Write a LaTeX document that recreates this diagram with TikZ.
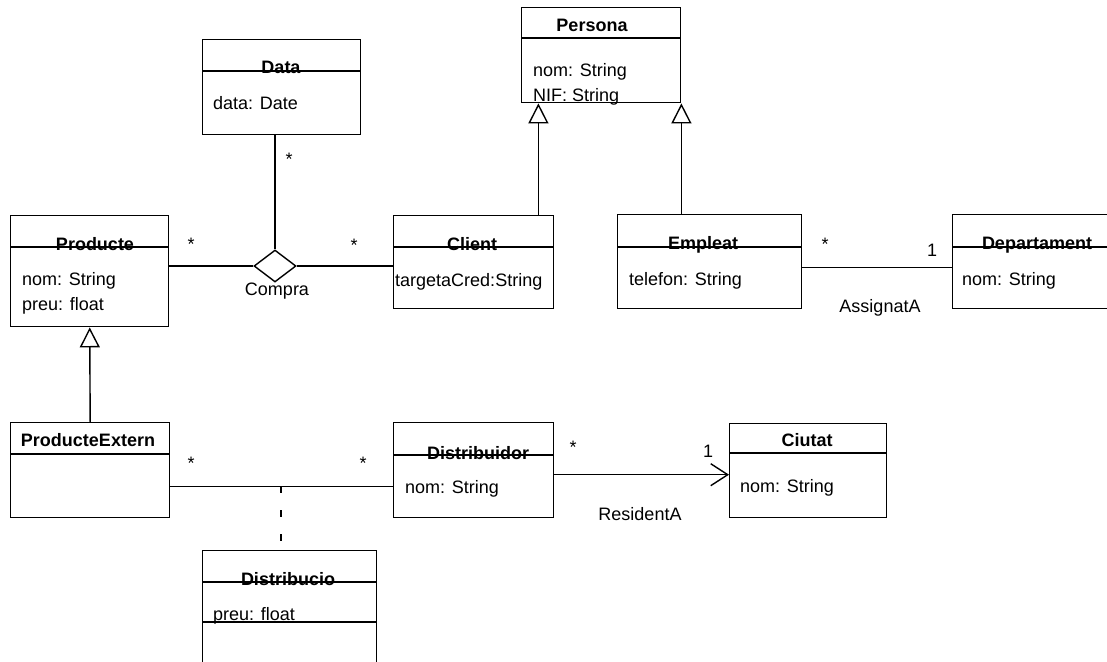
\documentclass[tikz,border=0pt]{standalone}
\usepackage{fontspec}
\setmainfont{Liberation Sans}
\usepackage{tikz}
\usetikzlibrary{arrows.meta}
\usetikzlibrary{shapes.geometric}
\tikzset{every node/.style={font=\fontsize{18}{22}\selectfont},
 umlclass/.style={draw, line width=1.4pt, anchor=north west, inner sep=0pt},
 classname/.style={anchor=base, inner sep=0pt, font=\fontsize{18}{22}\selectfont\bfseries},
 attr/.style={anchor=base west, inner sep=0pt},
 mult/.style={anchor=base, inner sep=0pt},
 assoc/.style={line width=1.4pt},
 inherit/.style={line width=1.4pt, -{Triangle[open, length=20pt, width=20pt]}},
 }

\begin{document}
\begin{tikzpicture}[x=1pt, y=-1pt]
        \useasboundingbox (0,0) rectangle (1107,661);

        \node[umlclass, minimum width=158pt, minimum height=95pt] (data) at (202,39) {};
        \draw[assoc] (data.north west) ++(0,32) -- ++(158,0);
        \node[classname] (dataname) at (281,74) {Data};
        \node[attr] (dataattr) at (213,109) {data: Date};

        \node[umlclass, minimum width=159pt, minimum height=95pt] (persona) at (521,7) {};
        \draw[assoc] (persona.north west) ++(0,31) -- ++(159,0);
        \node[classname] (personaname) at (592,32) {Persona};
        \node[attr] (personanom) at (533,77) {nom: String};
        \node[attr] (personanif) at (533,101) {NIF: String};

        \node[umlclass, minimum width=158pt, minimum height=111pt] (producte) at (10,215) {};
        \draw[assoc] (producte.north west) ++(0,32) -- ++(158,0);
        \node[classname] (productename) at (95,250) {Producte};
        \node[attr] (productenom) at (22,285) {nom: String};
        \node[attr] (productepreu) at (22,310) {preu: float};

        \node[umlclass, minimum width=160pt, minimum height=93pt] (client) at (393,215) {};
        \draw[assoc] (client.north west) ++(0,32) -- ++(160,0);
        \node[classname] (clientname) at (472,250) {Client};
        \node[attr] (clientcred) at (395,286) {targetaCred:String};

        \node[umlclass, minimum width=184pt, minimum height=94pt] (empleat) at (617,214) {};
        \draw[assoc] (empleat.north west) ++(0,33) -- ++(184,0);
        \node[classname] (empleatname) at (703,249) {Empleat};
        \node[attr] (empleattel) at (629,285) {telefon: String};

        \node[umlclass, minimum width=200pt, minimum height=94pt] (dept) at (952,214) {};
        \draw[assoc] (dept.north west) ++(0,33) -- ++(200,0);
        \node[classname] (deptname) at (1037,249) {Departament};
        \node[attr] (deptnom) at (962,285) {nom: String};

        \node[umlclass, minimum width=159pt, minimum height=95pt] (prodext) at (10,422) {};
        \draw[assoc] (prodext.north west) ++(0,32) -- ++(159,0);
        \node[classname] (prodextname) at (88,446) {ProducteExtern};

        \node[umlclass, minimum width=160pt, minimum height=95pt] (distribuidor) at (393,422) {};
        \draw[assoc] (distribuidor.north west) ++(0,33) -- ++(160,0);
        \node[classname] (distribuidorname) at (478,459) {Distribuidor};
        \node[attr] (distribuidornom) at (405,493) {nom: String};

        \node[umlclass, minimum width=157pt, minimum height=94pt] (ciutat) at (729,423) {};
        \draw[assoc] (ciutat.north west) ++(0,30) -- ++(157,0);
        \node[classname] (ciutatname) at (807,446) {Ciutat};
        \node[attr] (ciutatnom) at (740,492) {nom: String};

        \node[umlclass, minimum width=174pt, minimum height=150pt] (distribucio) at (202,550) {};
        \draw[assoc] (distribucio.north west) ++(0,32) -- ++(174,0);
        \draw[assoc] (distribucio.north west) ++(0,72) -- ++(174,0);
        \node[classname] (distribucioname) at (288,585) {Distribucio};
        \node[attr] (distribuciopreu) at (213,620) {preu: float};

        \node[draw, diamond, line width=1.4pt, minimum width=42pt, minimum height=32pt, inner sep=0pt, fill=white] (compra) at (275,266) {};
        \node[mult] (compralabel) at (277,295) {Compra};
        \draw[assoc] (data.south -| compra.north) -- (compra.north);
        \draw[assoc] (producte.east |- compra.west) -- (compra.west);
        \draw[assoc] (compra.east) -- (compra.east -| client.west);
        \node[mult] (datamult) at (289,165) {*};
        \node[mult] (compramulta) at (191,250) {*};
        \node[mult] (compramultb) at (354,251) {*};

        \coordinate (clienttop) at ([xshift=-16pt]client.north east);
        \draw[inherit] (clienttop) -- (clienttop |- persona.south);
        \draw[inherit] (empleat.north -| persona.south east) -- (persona.south east);
        \draw[inherit] (prodext.north) -- (producte.south);

        \coordinate (assigna) at ([yshift=-6pt]empleat.east);
        \draw[assoc] (assigna) -- (assigna -| dept.west);
        \node[mult] (assignamulta) at (825,250) {*};
        \node[mult] (assignamultb) at (932,256) {1};
        \node[mult] (assignalabel) at (880,312) {AssignatA};

        \coordinate (distrib) at ([yshift=-16pt]prodext.east);
        \draw[assoc] (distrib) -- (distrib -| distribuidor.west);
        \coordinate (distribmid) at (281,486);
        \draw[assoc, dash pattern=on 7pt off 17pt] (distribmid) -- (distribmid |- distribucio.north);
        \node[mult] (distribmulta) at (191,469) {*};
        \node[mult] (distribmultb) at (363,469) {*};

        \coordinate (resident) at ([yshift=-4.5pt]distribuidor.east);
        \draw[assoc, -{Straight Barb[length=17pt, width=22pt]}] (resident) -- (resident -| ciutat.west);
        \node[mult] (residentmulta) at (573,453) {*};
        \node[mult] (residentmultb) at (708,457) {1};
        \node[mult] (residentlabel) at (640,520) {ResidentA};
    \end{tikzpicture}
\end{document}
